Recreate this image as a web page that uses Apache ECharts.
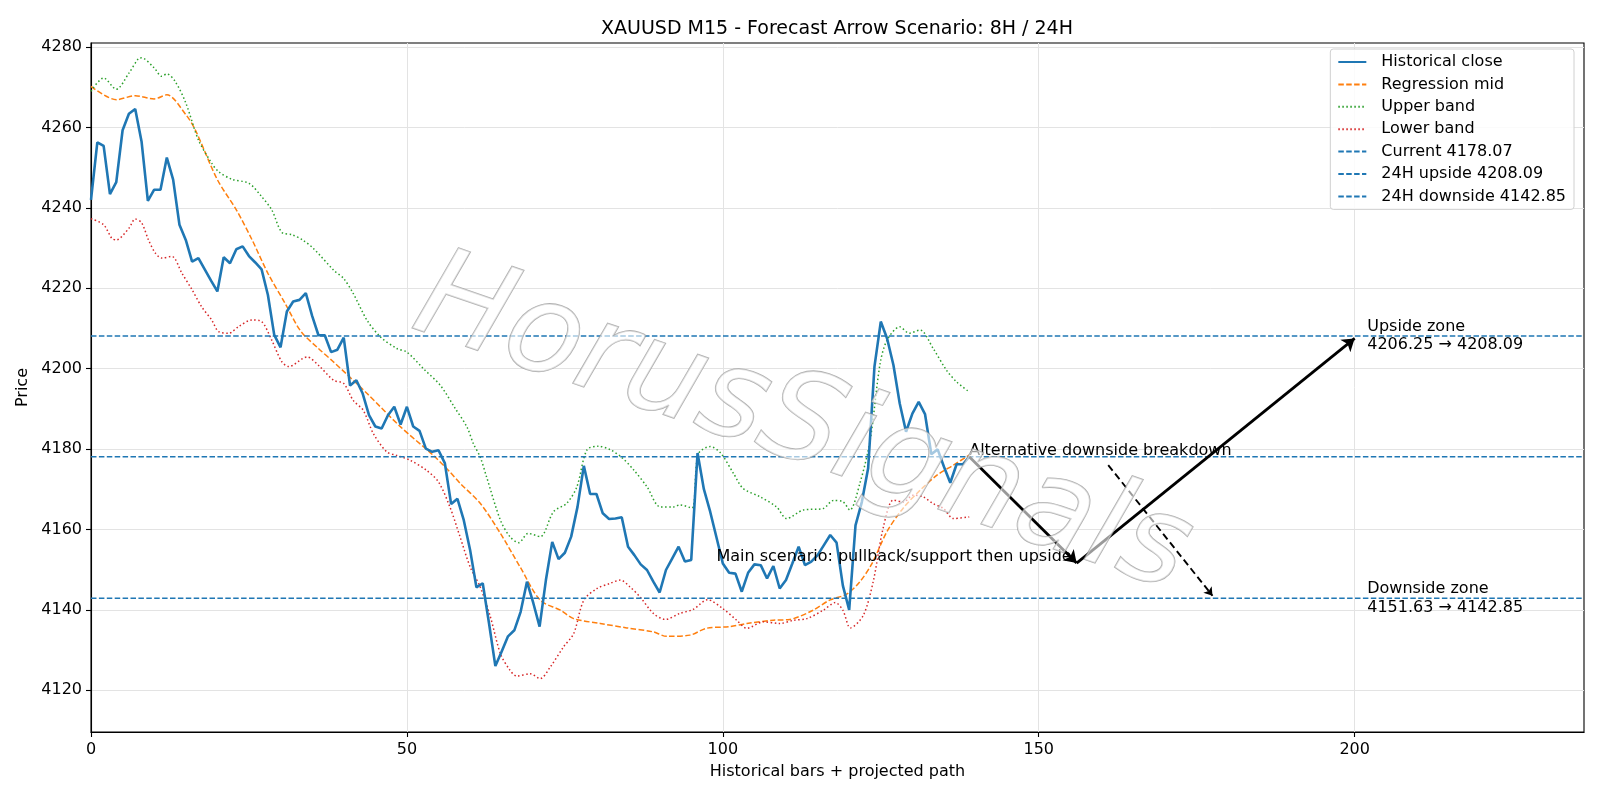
<!DOCTYPE html>
<html>
<head>
<meta charset="utf-8">
<title>XAUUSD M15 forecast</title>
<script src="https://cdn.jsdelivr.net/npm/echarts@6/dist/echarts.min.js"></script>
<style>
  html, body { margin: 0; padding: 0; background: #fff; }
  #chart { width: 1600px; height: 800px; }
</style>
</head>
<body>
<div id="chart"></div>
<script>
// historical closes, one per bar (bar index = position)
var closes = [
  4242.0, 4256.3, 4255.4, 4243.4, 4246.4, 4259.3, 4263.4, 4264.6, 4256.5, 4241.7,
  4244.5, 4244.5, 4252.5, 4247.0, 4235.8, 4232.0, 4226.6, 4227.5, 4224.7, 4221.9,
  4219.2, 4227.7, 4226.2, 4229.7, 4230.4, 4228.0, 4226.4, 4224.7, 4218.3, 4208.4,
  4205.3, 4214.2, 4216.7, 4217.1, 4218.8, 4213.1, 4208.3, 4208.3, 4204.1, 4204.7,
  4207.7, 4195.8, 4197.1, 4193.8, 4188.4, 4185.6, 4185.1, 4188.4, 4190.5, 4186.1,
  4190.5, 4185.6, 4184.5, 4180.1, 4179.3, 4179.7, 4176.5, 4166.3, 4167.6, 4162.3,
  4154.9, 4145.6, 4146.6, 4136.6, 4126.0, 4129.6, 4133.4, 4134.9, 4139.5, 4147.0,
  4141.7, 4135.8, 4147.4, 4156.9, 4152.6, 4154.2, 4158.2, 4165.6, 4175.8, 4168.8,
  4168.8, 4164.0, 4162.6, 4162.7, 4163.0, 4155.7, 4153.6, 4151.3, 4149.9, 4147.0,
  4144.3, 4149.9, 4152.8, 4155.7, 4152.0, 4152.4, 4179.0, 4170.0, 4164.4, 4158.0,
  4151.5, 4149.2, 4149.0, 4144.5, 4149.2, 4151.3, 4151.1, 4147.8, 4150.9, 4145.3,
  4147.4, 4151.5, 4155.7, 4151.1, 4152.0, 4153.6, 4156.1, 4158.6, 4156.7, 4146.0,
  4140.0, 4161.0, 4166.8, 4175.2, 4200.5, 4211.7, 4207.5, 4200.9, 4191.3, 4184.3,
  4188.8, 4191.7, 4188.7, 4178.7, 4179.9, 4175.6, 4171.6, 4176.2, 4176.2, 4178.07
];

// regression mid [bar, price]
var midLine = [
  [0, 4270.2], [4, 4266.9], [7, 4267.9], [10, 4267.1], [12, 4268.1], [15, 4263.2],
  [16.5, 4259.4], [20, 4247], [23, 4239.5], [25.5, 4232], [28, 4223.7], [30.7, 4216.3],
  [33.2, 4209.3], [36, 4205], [38.5, 4201.5], [43.7, 4193.8], [49, 4185.5], [54.2, 4178.4],
  [56.8, 4174.3], [58.4, 4171.5], [61.6, 4166.5], [64.8, 4159], [67.9, 4150.7], [71.1, 4142.4],
  [74.3, 4139.9], [76.4, 4137.8], [80.6, 4136.6], [84.8, 4135.5], [89, 4134.5], [91.1, 4133.4],
  [94.8, 4133.7], [97.4, 4135.4], [101, 4135.8], [103.8, 4136.6], [108, 4137.4], [110.6, 4137.6],
  [114.3, 4139.9], [116.9, 4142.4], [119.6, 4143.9], [121.7, 4147], [123.6, 4151.5], [126, 4159.5],
  [128.6, 4165.4], [131.2, 4169.7], [133.9, 4173.5], [136.5, 4176], [139, 4178.5]
];

var upperBand = [
  [0, 4269], [2, 4272.3], [4, 4269.5], [6, 4273.5], [7.5, 4277.1], [8, 4277.3], [10, 4274.8],
  [11.2, 4272.7], [12, 4273.3], [13.3, 4271.5], [15, 4266.1], [17, 4256.9], [19.1, 4251.1],
  [20.2, 4249], [22.3, 4247.1], [25, 4246.1], [27, 4242.8], [28.6, 4239.5], [30.2, 4233.9],
  [31.8, 4233.3], [33.5, 4232], [35.2, 4229.9], [38.4, 4224.5], [40, 4222.4], [41.5, 4218.7],
  [43.7, 4212], [45.8, 4207.9], [48.4, 4205], [50, 4204.1], [52.6, 4200], [55.3, 4195.8],
  [57.6, 4190.2], [59.5, 4185.5], [60.5, 4181.4], [61.6, 4178], [62.6, 4173.1], [64.8, 4162.3],
  [66.3, 4158.2], [67.7, 4156.7], [69.2, 4159], [71.1, 4158.2], [73.2, 4164.4], [75.3, 4166.5],
  [76.9, 4170.6], [78.5, 4179.8], [80.3, 4180.7], [82.2, 4179.8], [84, 4177.9], [85.9, 4174.8],
  [88, 4170.6], [90.1, 4165.6], [92.2, 4165.6], [93.2, 4166.1], [95.1, 4165.3], [96.1, 4178.7],
  [98, 4180.6], [99.6, 4179.1], [101.7, 4173.9], [103.2, 4170.2], [105.9, 4168.1], [108.5, 4165.6],
  [110.1, 4162.7], [112.7, 4164.8], [115.9, 4165.2], [117.5, 4167.2], [119, 4166.9], [120.1, 4164.8],
  [121.7, 4171.5], [123.3, 4182], [124.9, 4201.3], [126, 4207.1], [128, 4210.4], [129.5, 4208.8],
  [131.2, 4209.6], [133.3, 4205], [135.4, 4199.6], [137, 4196.7], [139, 4194.2]
];

var lowerBand = [
  [0, 4237.3], [2, 4235.8], [3.3, 4232.4], [4, 4232], [6, 4234.9], [7, 4237.2], [8, 4236.3],
  [9.1, 4232], [10.2, 4228.7], [11.2, 4227.5], [12.8, 4227.9], [14.4, 4223.7], [16, 4219.6],
  [17.5, 4215.4], [19.1, 4212.1], [20.2, 4209.2], [21.8, 4208.8], [23.4, 4210.5], [25.5, 4212.1],
  [27, 4211.7], [28.6, 4207.1], [30.2, 4201.7], [31.3, 4200.5], [33.5, 4202.5], [34.2, 4202.9],
  [36.2, 4200.5], [38.4, 4197.1], [40, 4196.3], [41.5, 4192.1], [43.1, 4189.6], [44.7, 4183.8],
  [46.8, 4179.3], [48.4, 4178.4], [50.5, 4177.2], [53.1, 4174.7], [55, 4171.8], [56.8, 4165.6],
  [58.4, 4158.2], [60, 4150.7], [61.6, 4145.7], [63.2, 4138.3], [64.8, 4129.1], [66.3, 4125],
  [67.4, 4123.5], [69.5, 4124.1], [71.1, 4122.9], [72.7, 4125.8], [74.8, 4130.8], [76.4, 4134.1],
  [78, 4142.4], [80.1, 4145.3], [82.2, 4146.6], [83.8, 4147.4], [85.3, 4145.7], [86.9, 4143.2],
  [89, 4139.1], [90.9, 4137.6], [93.2, 4139.1], [95.3, 4140.1], [97.6, 4142.5], [100, 4140.3],
  [102.2, 4137.4], [103.8, 4135.4], [106.4, 4137], [109, 4136.6], [111.2, 4137.4], [113.3, 4137.8],
  [115.9, 4139.9], [117.8, 4141.8], [119, 4139.9], [120.2, 4135.5], [122.2, 4138.5], [123.8, 4147],
  [125.4, 4160.5], [127, 4167.3], [128.6, 4166.8], [130.1, 4168.5], [131.7, 4168.1], [133.3, 4166.4],
  [134.9, 4165.2], [136.5, 4162.7], [139, 4163.1]
];

// reference levels
var levelNames = ['Current 4178.07', '24H upside 4208.09', '24H downside 4142.85'];
var levelValues = [4178.07, 4208.09, 4142.85];

// projected path arrows [from, to]
var mainPath = [[[139, 4178.07], [156, 4151.63]], [[156, 4151.63], [200, 4207.5]]];
var altPath = [[[161, 4176], [177.5, 4143.5]]];

// annotations
var noteText = ['Alternative downside breakdown', 'Main scenario: pullback/support then upside',
  'Upside zone\n4206.25 \u2192 4208.09', 'Downside zone\n4151.63 \u2192 4142.85'];
var noteX = [139, 99, 202, 202];
var noteY = [4178.07, 4151.63, 4208.09, 4142.85];

var xTicks = [0, 50, 100, 150, 200];
var yTicks = [4120, 4140, 4160, 4180, 4200, 4220, 4240, 4260, 4280];
var xMin = 0, xMax = 236.3, yMin = 4109.6, yMax = 4281;

var FONT = 'DejaVu Sans';
var FS = 16;
var chart = echarts.init(document.getElementById('chart'));

var closeData = closes.map(function (v, i) { return [i, v]; });

var series = [
  {
    name: 'Historical close', type: 'line', data: closeData, symbol: 'none',
    lineStyle: { color: '#1f77b4', width: 2.6 }, itemStyle: { color: '#1f77b4' }, z: 4
  },
  {
    name: 'Regression mid', type: 'line', data: midLine, symbol: 'none', smooth: 0.3,
    lineStyle: { color: '#ff7f0e', width: 1.5, type: [5.5, 2.4] }, itemStyle: { color: '#ff7f0e' }, z: 3
  },
  {
    name: 'Upper band', type: 'line', data: upperBand, symbol: 'none', smooth: 0.3,
    lineStyle: { color: '#2ca02c', width: 1.5, type: [1.5, 2.5] }, itemStyle: { color: '#2ca02c' }, z: 3
  },
  {
    name: 'Lower band', type: 'line', data: lowerBand, symbol: 'none', smooth: 0.3,
    lineStyle: { color: '#d62728', width: 1.5, type: [1.5, 2.5] }, itemStyle: { color: '#d62728' }, z: 3
  }
];

levelNames.forEach(function (nm, k) {
  series.push({
    name: nm, type: 'line', symbol: 'none', z: 3,
    data: [[xMin, levelValues[k]], [xMax, levelValues[k]]],
    lineStyle: { color: '#1f77b4', width: 1.5, type: [5.5, 2.4] }, itemStyle: { color: '#1f77b4' }
  });
});

series.push({
  type: 'lines', coordinateSystem: 'cartesian2d', silent: true, z: 6,
  symbol: ['none', 'arrow'], symbolSize: 12,
  lineStyle: { color: '#000', width: 2.8, opacity: 1 },
  data: mainPath.map(function (c) { return { coords: c }; })
});
series.push({
  type: 'lines', coordinateSystem: 'cartesian2d', silent: true, z: 6,
  symbol: ['none', 'arrow'], symbolSize: 8,
  lineStyle: { color: '#000', width: 1.9, type: [7, 4], opacity: 1 },
  data: altPath.map(function (c) { return { coords: c }; })
});

var noteLabels = [
  { align: 'left', verticalAlign: 'bottom', offset: [0, 3] },
  { align: 'left', verticalAlign: 'bottom', offset: [0, 3] },
  { align: 'left', verticalAlign: 'middle', offset: [0, 0] },
  { align: 'left', verticalAlign: 'middle', offset: [0, 0] }
];
series.push({
  type: 'scatter', silent: true, z: 7, symbolSize: 0.1,
  itemStyle: { color: 'rgba(0,0,0,0)' },
  label: {
    show: true, position: [0, 0], color: '#000', opacity: 1, fontFamily: FONT, fontSize: FS,
    lineHeight: 18.5, formatter: function (p) { return p.name; }
  },
  data: noteText.map(function (t, i) {
    return { name: t, value: [noteX[i], noteY[i]], label: noteLabels[i] };
  })
});

var option = {
  animation: false,
  backgroundColor: '#fff',
  textStyle: { fontFamily: FONT },
  title: {
    text: 'XAUUSD M15 - Forecast Arrow Scenario: 8H / 24H',
    left: 832, top: 15, textAlign: 'center',
    textStyle: { fontFamily: FONT, fontSize: 19, fontWeight: 'normal', color: '#000' }
  },
  grid: {
    left: 91, right: 16, top: 43, bottom: 68, containLabel: false,
    show: true, borderColor: '#000', borderWidth: 1.1
  },
  legend: {
    data: ['Historical close', 'Regression mid', 'Upper band', 'Lower band'].concat(levelNames),
    orient: 'vertical', right: 26, top: 49,
    padding: [5, 8, 5, 7], itemGap: 6.4, itemWidth: 28, itemHeight: 14,
    backgroundColor: 'rgba(255,255,255,0.85)', borderColor: '#d0d0d0', borderWidth: 1, borderRadius: 3,
    itemStyle: { opacity: 0 },
    textStyle: { fontFamily: FONT, fontSize: FS, color: '#000', padding: [0, 0, 0, 10] }
  },
  xAxis: {
    type: 'value', min: xMin, max: xMax,
    name: 'Historical bars + projected path', nameLocation: 'middle', nameGap: 32,
    nameTextStyle: { fontFamily: FONT, fontSize: FS, color: '#000' },
    axisLine: { show: true, lineStyle: { color: '#000', width: 1.1 } },
    axisTick: { show: true, length: 5, lineStyle: { color: '#000', width: 1.1 }, customValues: xTicks },
    axisLabel: { color: '#000', fontSize: FS, fontFamily: FONT, margin: 10, customValues: xTicks },
    splitLine: { show: true, lineStyle: { color: '#e3e3e3', width: 1 } }
  },
  yAxis: {
    type: 'value', min: yMin, max: yMax,
    name: 'Price', nameLocation: 'middle', nameGap: 51, nameRotate: 90,
    nameTextStyle: { fontFamily: FONT, fontSize: FS, color: '#000' },
    axisLine: { show: true, onZero: false, lineStyle: { color: '#000', width: 1.1 } },
    axisTick: { show: true, length: 5, lineStyle: { color: '#000', width: 1.1 }, customValues: yTicks },
    axisLabel: {
      color: '#000', fontSize: FS, fontFamily: FONT, margin: 9, customValues: yTicks,
      formatter: function (v) { return String(v); }
    },
    splitLine: { show: true, lineStyle: { color: '#e3e3e3', width: 1 } }
  },
  graphic: [{
    type: 'text', x: 802, y: 428, rotation: -19 * Math.PI / 180, z: 50, silent: true,
    style: {
      text: 'HorusSignals', font: 'italic 124px "DejaVu Sans"',
      align: 'center', verticalAlign: 'middle',
      fill: 'rgba(255,255,255,0.6)', stroke: 'rgba(150,150,150,0.75)', lineWidth: 1.6,
      shadowColor: 'rgba(0,0,0,0.28)', shadowBlur: 1, shadowOffsetX: 3, shadowOffsetY: 3
    }
  }],
  series: series
};

chart.setOption(option);
</script>
</body>
</html>
